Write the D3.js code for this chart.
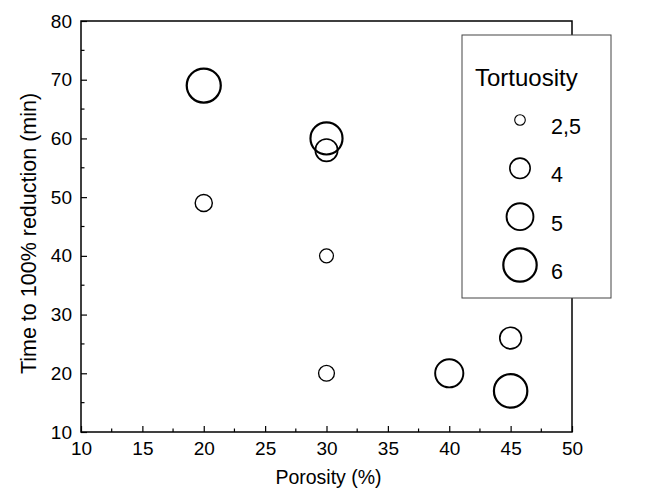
<!DOCTYPE html>
<html>
<head>
<meta charset="utf-8">
<script src="https://cdn.jsdelivr.net/npm/d3@7"></script>
<style>
  html, body { margin: 0; padding: 0; background: #fff; }
  svg { display: block; font-family: "Liberation Sans", Arial, sans-serif; }
</style>
</head>
<body>
<svg id="chart" width="646" height="488"></svg>
<script>
// Measurements: porosity (%), time to full reduction (min), tortuosity
const porosity   = [20, 20, 30, 30, 30, 30, 40, 45, 45];
const timeMin    = [69, 49, 60, 58, 40, 20, 20, 26, 17];
const tortuosity = [6.1, 3.5, 5.8, 4.3, 3.0, 3.3, 5.2, 4.2, 6.0];

// Legend entries
const legendValues = [2.5, 4, 5, 6];
const legendLabels = ["2,5", "4", "5", "6"];

const xTicks = [10, 15, 20, 25, 30, 35, 40, 45, 50];
const yTicks = [10, 20, 30, 40, 50, 60, 70, 80];

const svg = d3.select("#chart");
const plotL = 81, plotR = 572, plotT = 21, plotB = 432;

const x = d3.scaleLinear().domain([10, 50]).range([plotL, plotR]);
const y = d3.scaleLinear().domain([10, 80]).range([plotB, plotT]);
const r = d3.scaleLinear().domain([2.5, 6]).range([5.3, 16.7]);
const sw = d3.scaleLinear().domain([2.5, 6]).range([1.1, 2.2]);

// Bottom axis: major ticks every 5, minor halfway, pointing inward
const xMinor = d3.range(12.5, 50, 5);
const xAxis = d3.axisBottom(x).tickValues(xTicks).tickSize(-6).tickPadding(10).tickFormat(d3.format("d"));
const gx = svg.append("g").attr("transform", `translate(0,${plotB})`).call(xAxis);
gx.selectAll(".minor").data(xMinor).enter().append("line")
  .attr("x1", d => x(d)).attr("x2", d => x(d)).attr("y1", 0).attr("y2", -3.5)
  .attr("stroke", "#000").attr("stroke-width", 1.2);

const yMinor = d3.range(15, 80, 10);
const yAxis = d3.axisLeft(y).tickValues(yTicks).tickSize(-6).tickPadding(9).tickFormat(d3.format("d"));
const gy = svg.append("g").attr("transform", `translate(${plotL},0)`).call(yAxis);
gy.selectAll(".minor").data(yMinor).enter().append("line")
  .attr("y1", d => y(d)).attr("y2", d => y(d)).attr("x1", 0).attr("x2", 3.5)
  .attr("stroke", "#000").attr("stroke-width", 1.2);

[gx, gy].forEach(g => {
  g.select(".domain").remove();
  g.selectAll(".tick line").attr("stroke", "#000").attr("stroke-width", 1.2);
  g.selectAll(".tick text").attr("fill", "#000").style("font-size", "19px")
    .style("font-family", "'Liberation Sans', Arial, sans-serif");
});

// Plot frame
svg.append("rect")
  .attr("x", plotL).attr("y", plotT)
  .attr("width", plotR - plotL).attr("height", plotB - plotT)
  .attr("fill", "none").attr("stroke", "#000").attr("stroke-width", 1.5);

// Axis titles
svg.append("text")
  .attr("x", (plotL + plotR) / 2 + 2).attr("y", 484)
  .attr("text-anchor", "middle").style("font-size", "19.5px")
  .text("Porosity (%)");

svg.append("text")
  .attr("transform", `translate(36,${(plotT + plotB) / 2 + 7}) rotate(-90)`)
  .attr("text-anchor", "middle").style("font-size", "21.5px")
  .text("Time to 100% reduction (min)");

// Bubbles
const pts = porosity.map((p, i) => ({ p, t: timeMin[i], k: tortuosity[i] }));
svg.append("g").selectAll("circle").data(pts).enter().append("circle")
  .attr("cx", d => x(d.p)).attr("cy", d => y(d.t)).attr("r", d => r(d.k))
  .attr("fill", "none").attr("stroke", "#000").attr("stroke-width", d => sw(d.k));

// Legend
const lg = svg.append("g");
lg.append("rect")
  .attr("x", 462).attr("y", 35).attr("width", 149).attr("height", 263)
  .attr("fill", "#fff").attr("stroke", "#444").attr("stroke-width", 1);
lg.append("text").attr("x", 475).attr("y", 86).style("font-size", "24px").text("Tortuosity");
const ly = d3.scalePoint().domain(legendValues).range([120, 265]);
lg.selectAll("circle").data(legendValues).enter().append("circle")
  .attr("cx", 520).attr("cy", d => ly(d)).attr("r", d => r(d))
  .attr("fill", "none").attr("stroke", "#000").attr("stroke-width", d => sw(d));
lg.selectAll(".lab").data(legendValues).enter().append("text")
  .attr("x", 551).attr("y", d => ly(d) + 14).style("font-size", "21.5px")
  .text((d, i) => legendLabels[i]);
</script>
</body>
</html>
